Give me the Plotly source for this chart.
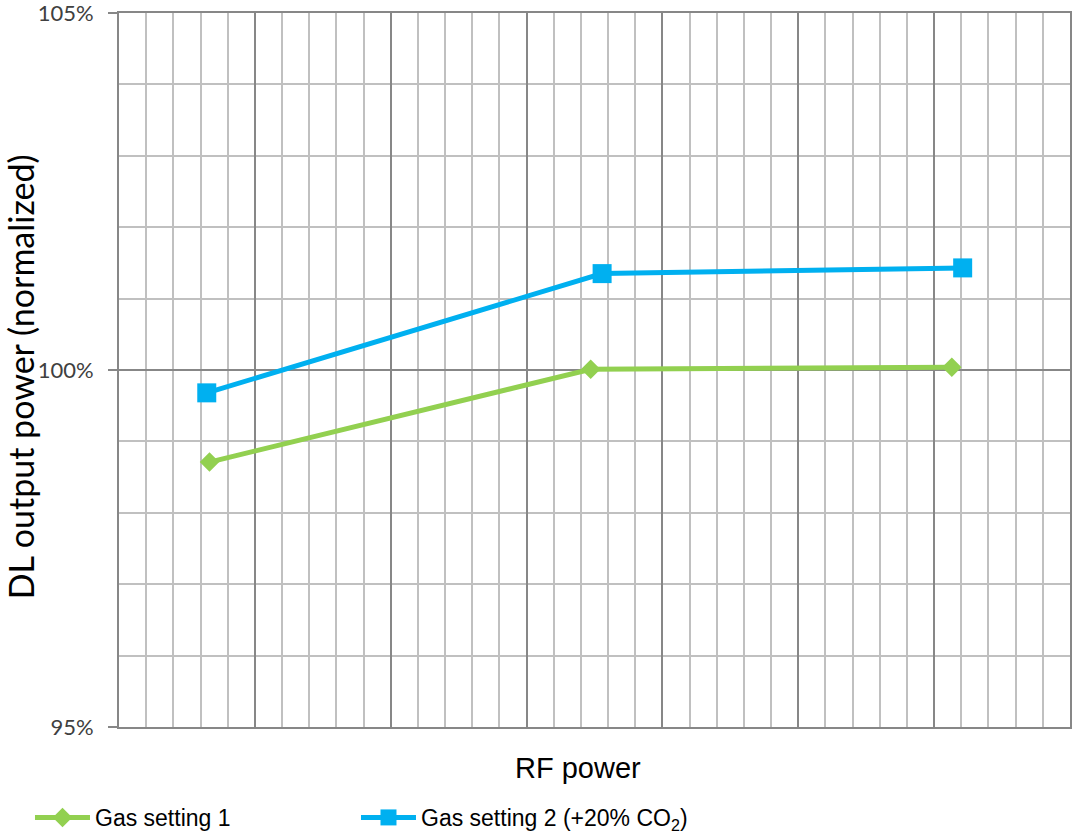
import plotly.graph_objects as go

# Data
series_names = ["Gas setting 1", "Gas setting 2 (+20% CO<sub>2</sub>)"]
rf_gas1 = [3.33, 17.36, 30.65]
dl_gas1 = [98.71, 100.01, 100.04]
rf_gas2 = [3.23, 17.78, 31.05]
dl_gas2 = [99.68, 101.35, 101.43]
y_tick_vals = [95, 100, 105]
y_tick_text = ["95%", "100%", "105%"]

GREEN = "#92D050"
BLUE = "#00B0F0"
MAJOR = "#878787"
MINOR = "#C0C0C0"

fig = go.Figure()
fig.add_trace(go.Scatter(
    x=rf_gas1, y=dl_gas1, mode="lines+markers", name=series_names[0],
    line=dict(color=GREEN, width=5),
    marker=dict(symbol="diamond", size=15, color=GREEN),
    legend="legend",
))
fig.add_trace(go.Scatter(
    x=rf_gas2, y=dl_gas2, mode="lines+markers", name=series_names[1],
    line=dict(color=BLUE, width=5),
    marker=dict(symbol="square", size=19, color=BLUE),
    legend="legend2",
))

W, H = 1072, 833
L, R, T, B = 119, 2, 13, 106

legend_common = dict(
    orientation="h", xanchor="left", y=-0.0966, yanchor="top",
    font=dict(family="Liberation Sans, Arial", size=23, color="#000000"),
    itemwidth=55,
    bgcolor="rgba(0,0,0,0)",
)

fig.update_layout(
    width=W, height=H,
    margin=dict(l=L, r=R, t=T, b=B, autoexpand=False),
    paper_bgcolor="white", plot_bgcolor="white",
    showlegend=True,
    legend=dict(x=-0.0936, **legend_common),
    legend2=dict(x=0.2492, **legend_common),
    xaxis=dict(
        range=[0, 35], showticklabels=False, ticks="",
        dtick=5, tick0=0,
        showgrid=True, gridcolor=MAJOR, gridwidth=2,
        minor=dict(dtick=1, tick0=0, showgrid=True, gridcolor=MINOR, gridwidth=2, ticks=""),
        showline=True, linecolor=MAJOR, linewidth=2, mirror=True,
        zeroline=False, fixedrange=True,
    ),
    yaxis=dict(
        range=[95, 105], tickmode="array", tickvals=y_tick_vals, ticktext=y_tick_text,
        ticks="outside", ticklen=9, tickwidth=2, tickcolor=MAJOR,
        ticklabelstandoff=10, ticklabeloverflow="allow",
        tickfont=dict(family="Lato, Open Sans", size=22, color="#404040"),
        showgrid=True, gridcolor=MAJOR, gridwidth=2,
        minor=dict(dtick=1, tick0=95, showgrid=True, gridcolor=MINOR, gridwidth=2, ticks=""),
        showline=True, linecolor=MAJOR, linewidth=2, mirror=True,
        zeroline=False, fixedrange=True,
    ),
    annotations=[
        dict(text="RF power", xref="paper", yref="paper", x=0.4826, y=0,
             xanchor="center", yanchor="middle", yshift=-41, showarrow=False,
             font=dict(family="Liberation Sans, Arial", size=29, color="#000000")),
        dict(text="DL output power (normalized)", xref="paper", yref="paper",
             x=-0.104, y=0.49, xanchor="center", yanchor="middle", textangle=-90,
             showarrow=False,
             font=dict(family="Lato, Open Sans", size=34, color="#000000")),
    ],
)

fig.write_html(
    "out.html",
    config={"displayModeBar": False},
    post_script="document.body.style.margin='0';document.body.style.overflow='hidden';",
)
